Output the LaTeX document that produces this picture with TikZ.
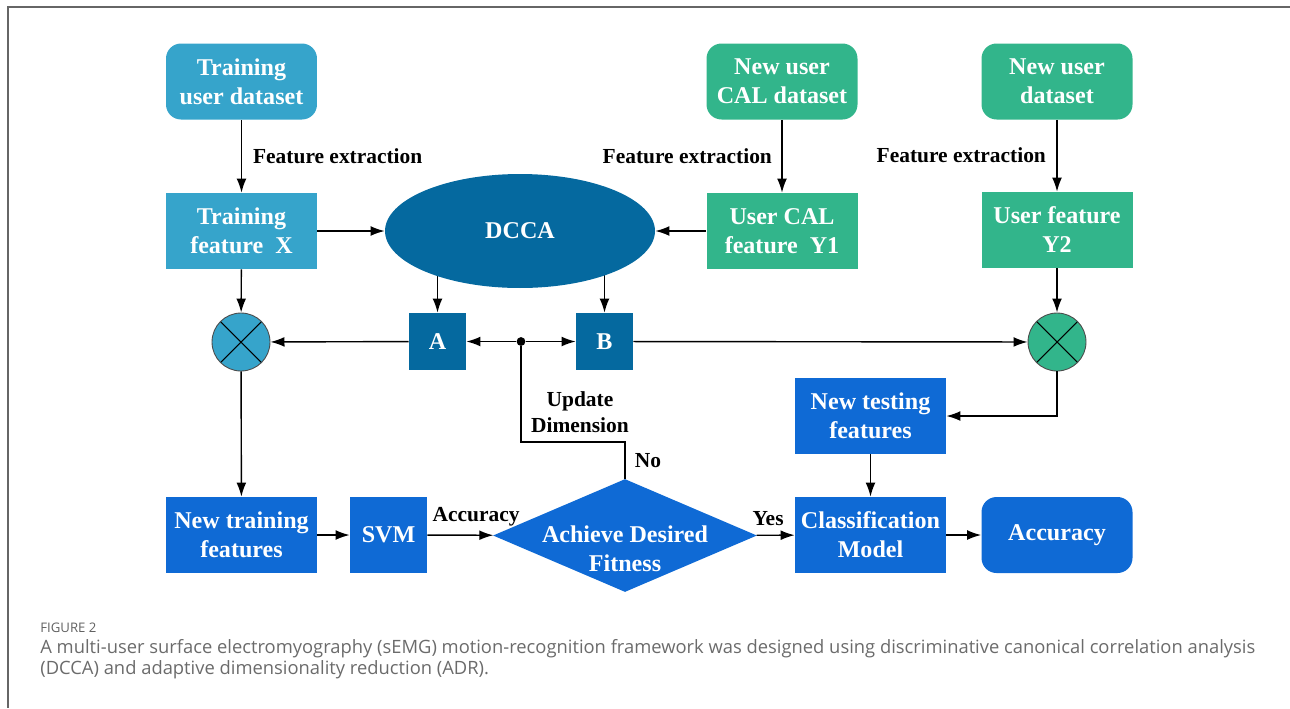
\documentclass[tikz,border=0pt]{standalone}
\usepackage{fontspec}
\setmainfont{Liberation Serif}
\newfontfamily\capfont{Open Sans}
\usetikzlibrary{arrows.meta,positioning,shapes.geometric,backgrounds}
\definecolor{trainblue}{HTML}{36A4CB}
\definecolor{usergreen}{HTML}{32B58B}
\definecolor{dccablue}{HTML}{05699F}
\definecolor{testblue}{HTML}{0F6AD5}

\begin{document}
\begin{tikzpicture}[x=0.02cm,y=-0.02cm,
    box/.style={fill=#1,text=white,minimum width=3.02cm,minimum height=1.52cm,
                inner sep=1pt,align=center,font=\fontsize{13.7}{16.5}\selectfont\bfseries},
    rbox/.style={box=#1,rounded corners=0.3cm},
    sq/.style={fill=dccablue,text=white,minimum size=1.14cm,inner sep=0pt,
               font=\fontsize{13.7}{16.5}\selectfont\bfseries},
    mix/.style={circle,draw=black!70,line width=0.5pt,fill=#1,minimum size=1.16cm,
                path picture={\draw[black,line width=0.6pt]
                  (path picture bounding box.north west) -- (path picture bounding box.south east)
                  (path picture bounding box.north east) -- (path picture bounding box.south west);}},
    lab/.style={font=\fontsize{12.2}{15}\selectfont\bfseries,inner sep=1pt},
    arr/.style={-{Latex[length=8pt,width=5.6pt]},line width=0.8pt},
    captext/.style={anchor=base west,inner sep=0pt,text=black!58,font=\capfont\fontsize{10.45}{12}\selectfont},
  ]
    \useasboundingbox (0,0) rectangle (1290,708);
    \draw[black!60,line width=0.6pt] (1290,7) -- (8,7) -- (8,708);

    % top row
    \node[rbox=trainblue] (tud) at (241.5,81.5) {Training\\user dataset};
    \node[rbox=usergreen] (ncd) at (782,81.5)   {New user\\CAL dataset};
    \node[rbox=usergreen] (nud) at (1057,81.5)  {New user\\dataset};

    % features
    \node[box=trainblue] (tfx) at (241.5,231) {Training\\feature\ \ X};
    \node[ellipse,fill=dccablue,text=white,minimum width=5.4cm,minimum height=2.28cm,
          font=\fontsize{13.7}{16.5}\selectfont\bfseries] (dcca) at (520,231) {DCCA};
    \node[box=usergreen] (ucy) at (782,231)  {User CAL\\feature\ \ Y1};
    \node[box=usergreen] (ufy) at (1057,230) {User feature\\Y2};

    % projection row
    \node[mix=trainblue] (mixl) at (241,342) {};
    \node[sq] (A) at (437.5,341.5) {A};
    \node[sq] (B) at (604.5,341.5) {B};
    \node[circle,fill,inner sep=0pt,minimum size=5pt] (dot) at (521,341.5) {};
    \node[mix=usergreen] (mixr) at (1057,342) {};

    % bottom row
    \node[box=testblue] (ntst) at (870.5,416) {New testing\\features};
    \node[box=testblue] (ntf) at (241.5,535) {New training\\features};
    \node[box=testblue,minimum width=1.54cm] (svm) at (388.5,535) {SVM};
    \node[diamond,fill=testblue,minimum width=5.28cm,minimum height=2.26cm,
          inner sep=0pt] (fit) at (625,535.5) {};
    \node[text=white,align=center,font=\fontsize{13.7}{16.5}\selectfont\bfseries]
          (fittxt) at (625,549) {Achieve Desired\\Fitness};
    \node[box=testblue] (cls) at (870.5,535) {Classification\\Model};
    \node[rbox=testblue] (acc) at (1057,535) {Accuracy};
    \coordinate (bend) at (625,442);

    \draw[arr] (tud) -- (tfx);
    \draw[arr] (ncd) -- (ucy);
    \draw[arr] (nud) -- (ufy);
    \node[lab,anchor=west] at (251,156) {Feature extraction};
    \node[lab,anchor=east] at (774,156) {Feature extraction};
    \node[lab,anchor=east] at (1048,155) {Feature extraction};

    \draw[arr] (tfx) -- (dcca);
    \draw[arr] (ucy) -- (dcca);
    \begin{scope}[on background layer]
      \draw[arr] (A|-dcca) -- (A);
      \draw[arr] (B|-dcca) -- (B);
    \end{scope}
    \draw[arr] (tfx) -- (mixl);
    \draw[arr] (ufy) -- (mixr);
    \draw[arr] (A) -- (mixl);
    \draw[arr] (dot) -- (A);
    \draw[arr] (dot) -- (B);
    \draw[arr] (B) -- (mixr);
    \draw[arr] (mixl) -- (ntf);
    \draw[arr] (mixr) |- (ntst);
    \draw[arr] (ntst) -- (cls);

    \draw[arr] (ntf) -- (svm);
    \draw[arr] (svm) -- node[lab,above=4pt,pos=0.74] {Accuracy} (fit);
    \draw[arr] (fit) -- node[lab,above=4pt,pos=0.3] {Yes} (cls);
    \draw[arr] (cls) -- (acc);
    \draw[line width=0.8pt] (fit.north) -- (bend) -| (dot);
    \node[lab,align=center] at (580,412) {Update\\Dimension};
    \node[lab] at (648,461) {No};

    % caption
    \node[captext,text=black!62,font=\capfont\fontsize{7.5}{9}\selectfont] at (40,632) {FIGURE 2};
    \node[captext] at (40,653) {A multi-user surface electromyography (sEMG) motion-recognition framework was designed using discriminative canonical correlation analysis};
    \node[captext] at (40,674) {(DCCA) and adaptive dimensionality reduction (ADR).};
  \end{tikzpicture}
\end{document}
